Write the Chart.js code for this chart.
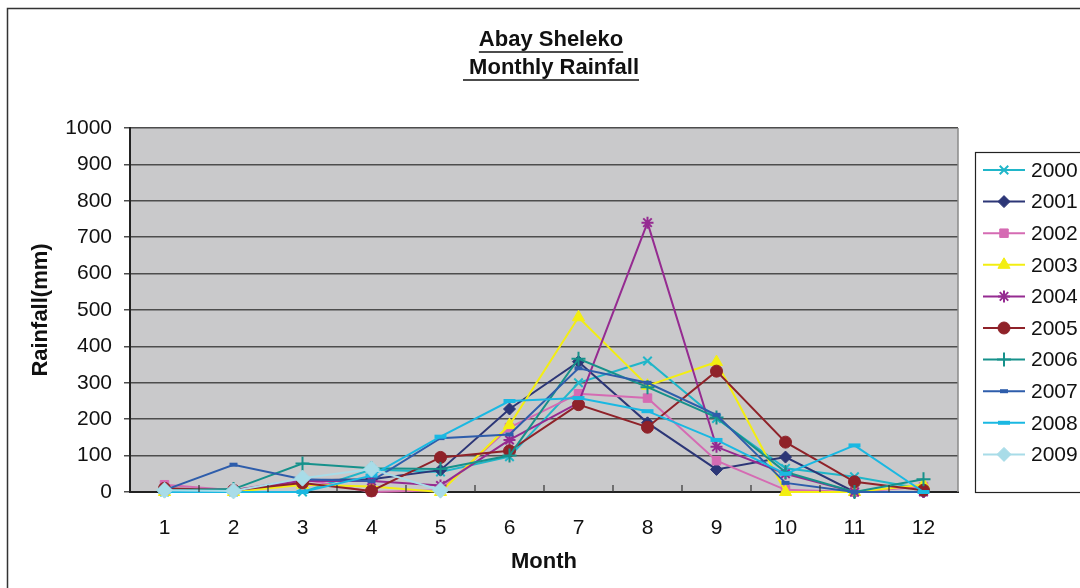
<!DOCTYPE html>
<html>
<head>
<meta charset="utf-8">
<script src="https://cdn.jsdelivr.net/npm/chart.js@4.4.0/dist/chart.umd.min.js"></script>
<style>
  html, body { margin: 0; padding: 0; background: #ffffff; overflow: hidden; }
  #wrap { position: relative; width: 1080px; height: 588px; }
</style>
</head>
<body>
<div id="wrap"><canvas id="c" width="1080" height="588"></canvas></div>
<script>
// ---- data ----
const months = ['1','2','3','4','5','6','7','8','9','10','11','12'];
const seriesNames = ['2000','2001','2002','2003','2004','2005','2006','2007','2008','2009'];
const y2000 = [0, 0, 0, 62, 55, 97, 300, 360, 202, 65, 42, 8];
const y2001 = [5, 5, 32, 35, 60, 228, 358, 190, 62, 96, 0, 0];
const y2002 = [20, 5, 35, 0, 5, 177, 270, 258, 86, 6, 0, 15];
const y2003 = [0, 0, 20, 15, 0, 184, 480, 292, 357, 0, 0, 20];
const y2004 = [5, 5, 30, 30, 18, 143, 245, 740, 124, 50, 0, 0];
const y2005 = [10, 5, 25, 3, 95, 113, 240, 178, 332, 137, 28, 5];
const y2006 = [5, 8, 78, 65, 63, 100, 366, 288, 205, 55, 0, 35];
const y2007 = [5, 75, 35, 30, 148, 158, 340, 300, 212, 25, 0, 0];
const y2008 = [0, 0, 0, 45, 152, 250, 258, 222, 143, 50, 128, 0];
const y2009 = [5, 3, 38, 63, 5, null, null, null, null, null, null, null];
const yTicks = [0,100,200,300,400,500,600,700,800,900,1000];

const allValues = [y2000,y2001,y2002,y2003,y2004,y2005,y2006,y2007,y2008,y2009];
const colors = ['#20B6C9','#2C3677','#D56BB3','#F3EE12','#952B91','#8F2229','#16918B','#2E5DAB','#1AB8E2','#A8DCE8'];
const styles = [
  {ps:'crossRot', r:6, bw:2},
  {ps:'rectRot', r:6, bw:1},
  {ps:'rect', r:6, bw:1},
  {ps:'triangle', r:7, bw:1},
  {ps:'star', r:6, bw:2},
  {ps:'circle', r:6, bw:1},
  {ps:'cross', r:7, bw:2},
  {ps:'line', r:4, bw:4},
  {ps:'line', r:6, bw:4},
  {ps:'rectRot', r:8, bw:1}
];

const datasets = seriesNames.map((n, i) => ({
  label: n,
  data: allValues[i],
  order: seriesNames.length - 1 - i,
  borderColor: colors[i],
  backgroundColor: colors[i],
  pointBackgroundColor: colors[i],
  pointBorderColor: colors[i],
  pointStyle: styles[i].ps,
  pointRadius: styles[i].r,
  pointBorderWidth: styles[i].bw,
  borderWidth: 2,
  tension: 0,
  fill: false,
  spanGaps: false,
  clip: false
}));

const FONT = "'Liberation Sans', Arial, sans-serif";
Chart.defaults.font.family = FONT;
Chart.defaults.color = '#111';

const decor = {
  id: 'decor',
  beforeDraw(chart) {
    const {ctx, chartArea: a} = chart;
    ctx.save();
    ctx.fillStyle = '#ffffff';
    ctx.fillRect(0, 0, chart.width, chart.height);
    ctx.strokeStyle = '#333';
    ctx.lineWidth = 1.5;
    ctx.strokeRect(7.5, 8.5, 1300, 800);
    ctx.fillStyle = '#C9C9CB';
    ctx.fillRect(a.left, a.top, a.right - a.left, a.bottom - a.top);
    ctx.restore();
  },
  afterDatasetsDraw(chart) {
    const {ctx, chartArea: a} = chart;
    ctx.save();
    ctx.strokeStyle = '#8a8a8a';
    ctx.lineWidth = 1.5;
    ctx.beginPath(); ctx.moveTo(a.right, a.top); ctx.lineTo(a.right, a.bottom); ctx.stroke();
    ctx.restore();
  },
  afterDraw(chart) {
    const {ctx, chartArea: a} = chart;
    ctx.save();
    const xs = chart.scales.x;
    ctx.strokeStyle = '#333';
    ctx.lineWidth = 1.2;
    const n = months.length;
    for (let i = 1; i < n; i++) {
      const bx = (xs.getPixelForTick(i) + xs.getPixelForTick(i - 1)) / 2;
      ctx.beginPath(); ctx.moveTo(bx, a.bottom); ctx.lineTo(bx, a.bottom - 7); ctx.stroke();
    }
    // title
    ctx.fillStyle = '#111';
    ctx.font = 'bold 22px ' + FONT;
    ctx.textAlign = 'center';
    ctx.textBaseline = 'middle';
    const cx = 551;
    const lines = [['Abay Sheleko', 40, 52], [' Monthly Rainfall', 68, 80]];
    ctx.strokeStyle = '#111';
    ctx.lineWidth = 1.5;
    lines.forEach(([t, y, uy]) => {
      ctx.fillText(t, cx, y);
      const w = ctx.measureText(t).width;
      ctx.beginPath(); ctx.moveTo(cx - w / 2, uy); ctx.lineTo(cx + w / 2, uy); ctx.stroke();
    });
    // legend
    ctx.strokeStyle = '#222';
    ctx.lineWidth = 1.2;
    ctx.strokeRect(975.5, 152.5, 200, 340);
    ctx.font = '21px ' + FONT;
    ctx.textAlign = 'left';
    chart.data.datasets.forEach((ds, i) => {
      const y = 170 + i * 31.6;
      ctx.strokeStyle = ds.borderColor;
      ctx.lineWidth = 2;
      ctx.beginPath(); ctx.moveTo(983, y); ctx.lineTo(1025, y); ctx.stroke();
      ctx.fillStyle = ds.pointBackgroundColor;
      ctx.strokeStyle = ds.pointBorderColor;
      ctx.lineWidth = ds.pointBorderWidth;
      Chart.helpers.drawPoint(ctx, {pointStyle: ds.pointStyle, radius: Math.min(ds.pointRadius, 7), borderWidth: ds.pointBorderWidth, rotation: 0}, 1004, y);
      ctx.fillStyle = '#111';
      ctx.fillText(ds.label, 1031, y + 1);
    });
    ctx.restore();
  }
};

new Chart(document.getElementById('c'), {
  type: 'line',
  data: { labels: months, datasets },
  options: {
    responsive: false,
    animation: false,
    devicePixelRatio: 1,
    layout: { padding: { top: 128, right: 122, left: 0, bottom: 0 } },
    plugins: {
      legend: { display: false },
      title: { display: false },
      tooltip: { enabled: false }
    },
    scales: {
      x: {
        type: 'category',
        offset: true,
        grid: { display: false },
        border: { display: true, color: '#222', width: 2 },
        ticks: { font: { size: 21 }, color: '#111', padding: 16, maxRotation: 0 },
        title: { display: true, text: 'Month', font: { size: 22, weight: 'bold' }, color: '#111', padding: { top: 0, bottom: 13 } },
        afterFit(s) { s.height = 96; }
      },
      y: {
        min: 0, max: 1000,
        afterBuildTicks(s) { s.ticks = yTicks.map(v => ({ value: v })); },
        grid: { color: '#4d4d4d', lineWidth: 1.5, tickLength: 6, drawTicks: true },
        border: { display: true, color: '#222', width: 2 },
        ticks: { font: { size: 21 }, color: '#111', padding: 12, callback: (v) => String(v) },
        title: { display: true, text: 'Rainfall(mm)', font: { size: 22, weight: 'bold' }, color: '#111', padding: { top: 28, bottom: 0 } },
        afterFit(s) { s.width = 130; }
      }
    }
  },
  plugins: [decor]
});
</script>
</body>
</html>
